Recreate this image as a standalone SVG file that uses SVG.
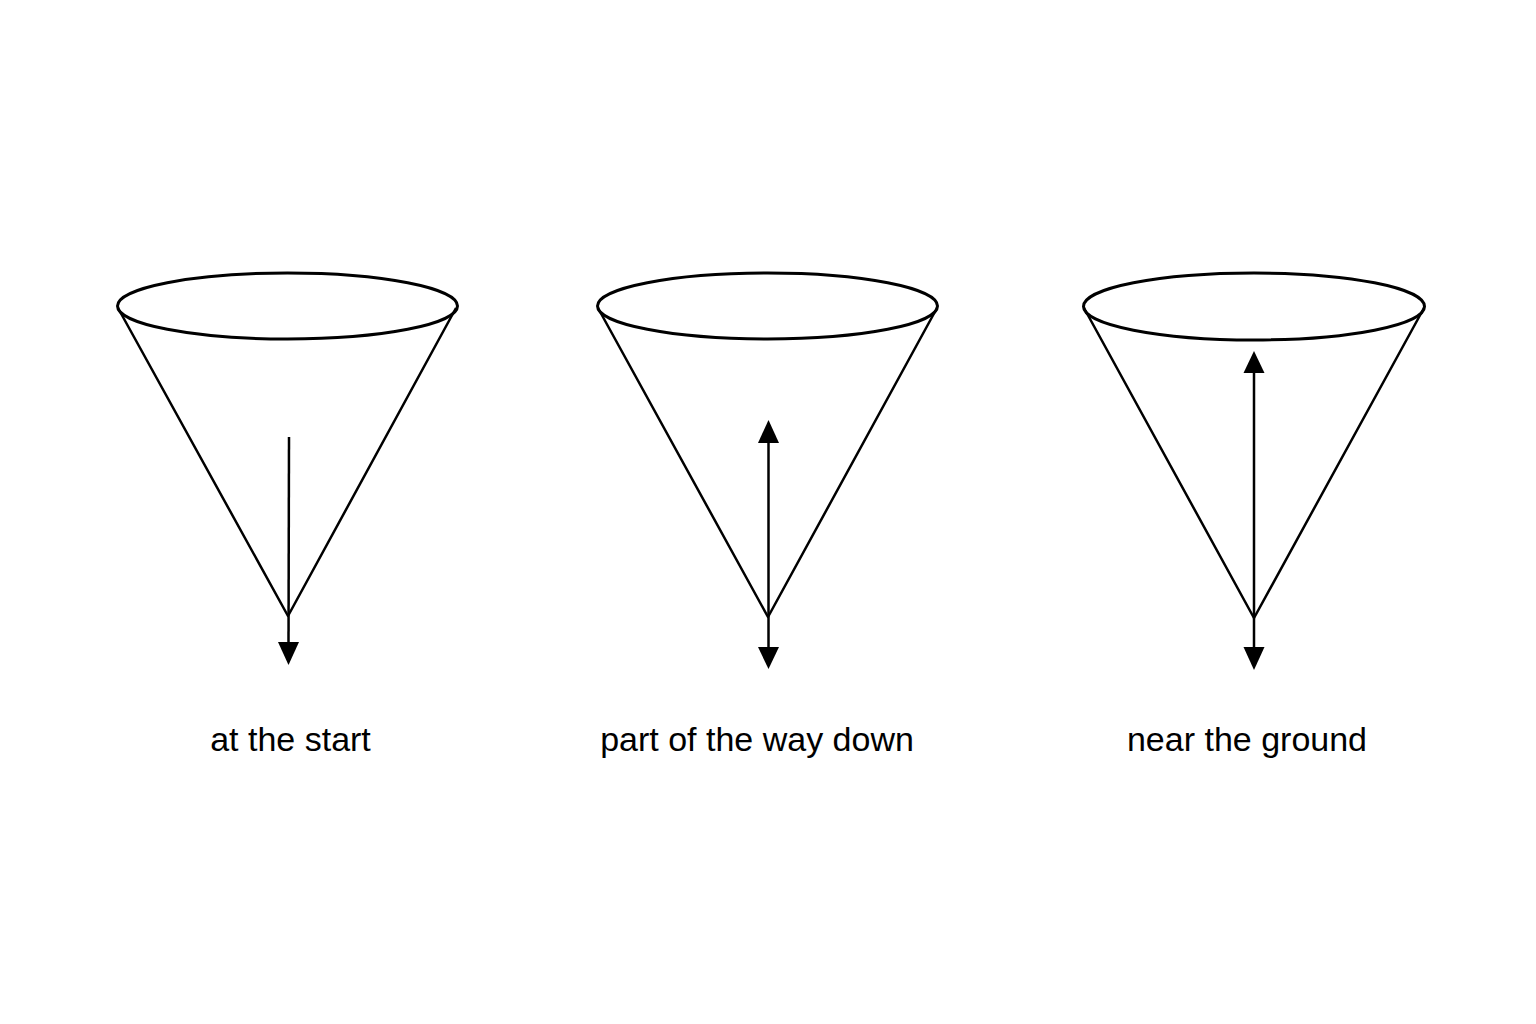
<svg xmlns="http://www.w3.org/2000/svg" width="1536" height="1024" viewBox="0 0 1536 1024">
<style>
.cone{fill:none;stroke:#000;stroke-width:2.5;stroke-linejoin:round}
.rim{fill:none;stroke:#000;stroke-width:3}
.arr{stroke:#000;stroke-width:2.5;fill:none}
.head{fill:#000}
.lbl{font-family:"Liberation Sans",Arial,sans-serif;font-size:34px;fill:#000;text-anchor:middle}
</style>
<rect width="1536" height="1024" fill="#fff"/>
<g id="cone1">
<path class="cone" d="M118 308 L288 616 L456 308"/>
<ellipse class="rim" cx="287.5" cy="306" rx="170" ry="33"/>
</g>
<g id="cone2">
<path class="cone" d="M598 308 L768 617 L937 308"/>
<ellipse class="rim" cx="767.5" cy="306" rx="170" ry="33"/>
</g>
<g id="cone3">
<path class="cone" d="M1084 308 L1254 618 L1424 308"/>
<ellipse class="rim" cx="1254" cy="306.5" rx="170.5" ry="33.5"/>
</g>
<g id="connectors">
<line class="arr" x1="289" y1="437" x2="288.5" y2="644"/>
<polygon class="head" points="278,642 299,642 288.5,665"/>
<line class="arr" x1="768.5" y1="441" x2="768.5" y2="649"/>
<polygon class="head" points="758,443 779,443 768.5,420"/>
<polygon class="head" points="758,647 779,647 768.5,669"/>
<line class="arr" x1="1254" y1="372" x2="1254" y2="649"/>
<polygon class="head" points="1243.5,373 1264.5,373 1254,351"/>
<polygon class="head" points="1243.5,647 1264.5,647 1254,670"/>
</g>
<g id="labels">
<text class="lbl" x="290.5" y="751">at the start</text>
<text class="lbl" x="757" y="751">part of the way down</text>
<text class="lbl" x="1247" y="751">near the ground</text>
</g>
</svg>
